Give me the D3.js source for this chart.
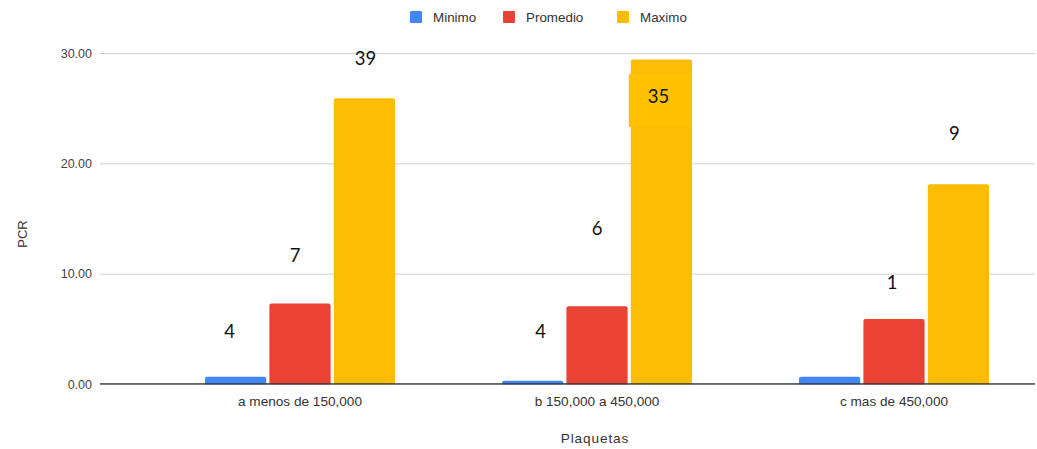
<!DOCTYPE html>
<html>
<head>
<meta charset="utf-8">
<script src="https://cdn.jsdelivr.net/npm/d3@7"></script>
<style>
  html, body { margin: 0; padding: 0; background: #fff; }
  svg { display: block; }
</style>
</head>
<body>
<svg id="chart" width="1037" height="449"></svg>
<script>
// Platelet groups and PCR statistics per group
const categories = ["a menos de 150,000", "b 150,000 a 450,000", "c mas de 450,000"];
const series = ["Minimo", "Promedio", "Maximo"];
const minimo = [0.65, 0.3, 0.65];
const promedio = [7.3, 7.05, 5.9];
const maximo = [25.9, 29.4, 18.1];
const yTicks = [0, 10, 20, 30];
const colors = ["#4285F4", "#EA4335", "#FBBC04"];

// Count notes written over the bars: text, group, series, level (in PCR units)
const noteText = ["4", "7", "39", "4", "6", "35", "1", "9"];
const noteGroup = [0, 0, 0, 1, 1, 1, 2, 2];
const noteSeries = [0, 1, 2, 0, 1, 2, 1, 2];
const noteLevel = [4.8, 11.6, 29.5, 4.8, 14.1, 26.1, 9.2, 22.7];
const noteDx = [-6, -5, 1, 8, 0, -3, -2, -4];

const values = [minimo, promedio, maximo];
const rows = categories.map((c, i) => ({ category: c, vals: series.map((s, j) => ({ series: s, j, v: values[j][i] })) }));

const svg = d3.select("#chart");
const font = "Arial, 'Liberation Sans', sans-serif";

const y = d3.scaleLinear().domain([0, 30]).range([384, 53]);
const x0 = d3.scaleBand().domain(categories).range([151.5, 1042.5]);
const groupW = 190;
const x1 = d3.scaleBand().domain(series).range([0, groupW]).paddingInner(0.05);
const gx = c => x0(c) + (x0.bandwidth() - groupW) / 2;

// Gridlines and y tick labels
const yAxis = d3.axisLeft(y).tickValues(yTicks).tickSize(-(1035 - 100)).tickFormat(d3.format(".2f")).tickPadding(8);
const ga = svg.append("g").attr("transform", "translate(100,0)").call(yAxis);
ga.select(".domain").remove();
ga.selectAll(".tick line").attr("stroke", "#d0d0d0").attr("stroke-width", 1);
ga.selectAll(".tick text").attr("fill", "#444").attr("font-size", 12.5).attr("font-family", font);

// Bars
const groups = svg.append("g").selectAll("g").data(rows).join("g")
  .attr("transform", d => `translate(${gx(d.category)},0)`);
groups.selectAll("rect").data(d => d.vals).join("rect")
  .attr("x", d => x1(d.series))
  .attr("width", x1.bandwidth())
  .attr("y", d => y(d.v))
  .attr("height", d => y(0) - y(d.v) + 3)
  .attr("rx", 2)
  .attr("fill", d => colors[d.j]);

// Baseline
svg.append("line").attr("x1", 100).attr("x2", 1035).attr("y1", y(0)).attr("y2", y(0))
  .attr("stroke", "#333").attr("stroke-width", 1.5);
svg.append("rect").attr("x", 100).attr("y", y(0) + 0.8).attr("width", 935).attr("height", 6).attr("fill", "#fff");

// X tick labels
const xAxis = d3.axisBottom(x0).tickSize(0).tickPadding(12);
const gb = svg.append("g").attr("transform", `translate(0,${y(0)})`).call(xAxis);
gb.select(".domain").remove();
gb.selectAll(".tick text").attr("fill", "#333").attr("font-size", 13.6).attr("font-family", font);

// Axis titles
svg.append("text").attr("x", 595).attr("y", 443).attr("text-anchor", "middle")
  .attr("font-size", 13.6).attr("letter-spacing", 0.9).attr("fill", "#333").attr("font-family", font).text("Plaquetas");
svg.append("text").attr("transform", "translate(27,234) rotate(-90)").attr("text-anchor", "middle")
  .attr("font-size", 13).attr("fill", "#333").attr("font-family", font).text("PCR");

// Legend
const legendX = [410, 503, 617];
const lg = svg.append("g").selectAll("g").data(series).join("g")
  .attr("transform", (d, i) => `translate(${legendX[i]},11)`);
lg.append("rect").attr("width", 12).attr("height", 12).attr("rx", 1).attr("fill", (d, i) => colors[i]);
lg.append("text").attr("x", 23).attr("y", 10.5).attr("font-size", 13.4).attr("fill", "#333")
  .attr("font-family", font).text(d => d);

// Highlight box behind the "35" note
const bx = gx(categories[1]) + x1("Maximo");
svg.append("rect").attr("x", bx - 2).attr("width", x1.bandwidth() + 1)
  .attr("y", y(28.1)).attr("height", y(23.3) - y(28.1)).attr("fill", "#FFC000");

// Count notes
svg.append("g").selectAll("text").data(noteText).join("text")
  .attr("x", (d, i) => gx(categories[noteGroup[i]]) + x1(series[noteSeries[i]]) + x1.bandwidth() / 2 + noteDx[i])
  .attr("y", (d, i) => y(noteLevel[i]))
  .attr("dy", "0.35em")
  .attr("text-anchor", "middle")
  .attr("font-size", 18.5)
  .attr("fill", "#111")
  .attr("font-family", "Lato, 'Open Sans', sans-serif")
  .text(d => d);
</script>
</body>
</html>
